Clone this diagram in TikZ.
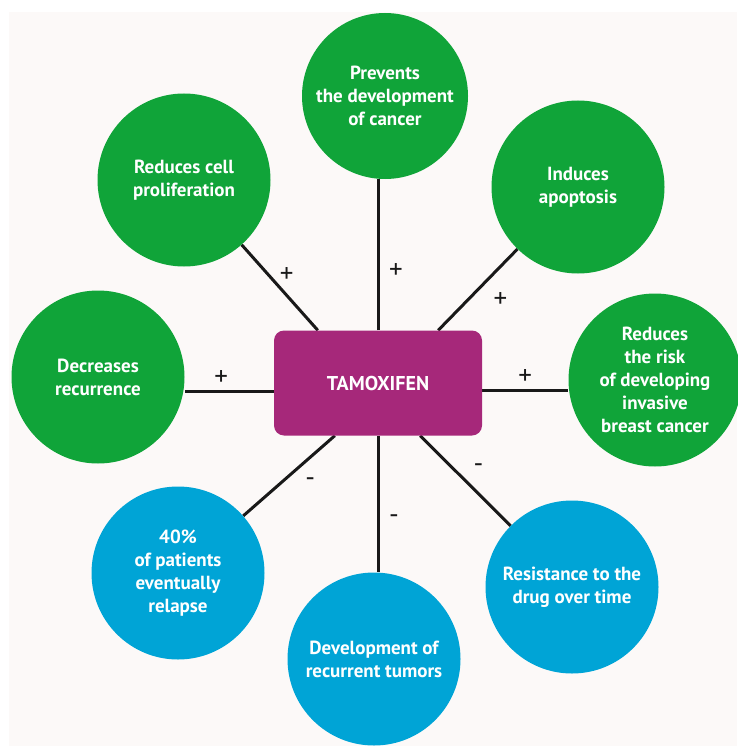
\documentclass[tikz,border=0pt]{standalone}
\usepackage{fontspec}
\setmainfont{PT Sans}
\usepackage{tikz}
\usetikzlibrary{shapes,arrows,calc,positioning,backgrounds}

\definecolor{tamgreen}{RGB}{16,164,57}
\definecolor{tamblue}{RGB}{0,164,214}
\definecolor{tampurple}{RGB}{166,40,122}
\definecolor{tampaper}{RGB}{252,249,248}

\begin{document}
\begin{tikzpicture}[x=1pt,y=-1pt,
                    effect/.style={circle,minimum size=173pt,inner sep=0pt,text=white,
                                   align=center,font=\fontsize{19}{23}\selectfont\bfseries},
                    pro/.style={effect,fill=tamgreen},
                    con/.style={effect,fill=tamblue},
                    drug/.style={rounded corners=10pt,fill=tampurple,minimum width=208pt,
                                 minimum height=105pt,text=white,
                                 font=\fontsize{20}{22}\selectfont\bfseries},
                    link/.style={line width=3pt,black!90},
                    sign/.style={font=\fontsize{27}{27}\selectfont,text=black!90}]

	\useasboundingbox (0,0) rectangle (737,746);

	% drug in the middle
	\node[drug] (tam) at (378,383) {TAMOXIFEN};

	% positive effects
	\node[pro,minimum size=166pt] (prev) at (385,96)  {Prevents\\the development\\of cancer};
	\node[pro] (prolif) at (184,180) {Reduces cell\\proliferation};
	\node[pro] (apopt)  at (578,187) {Induces\\apoptosis};
	\node[pro] (recur)  at (98,377)  {Decreases\\recurrence};
	\node[pro] (risk)   at (655,380) {Reduces\\the risk\\of developing\\invasive\\breast cancer};

	% negative effects
	\node[con] (relapse) at (178,573) {40\%\\of patients\\eventually\\relapse};
	\node[con] (tumors)  at (374,659) {Development of\\recurrent tumors};
	\node[con] (resist)  at (572,587) {Resistance to the\\drug over time};

	\begin{scope}[on background layer]
		\fill[tampaper] (9,12) rectangle (737,746);

		\draw[link] (tam.north) -- node[sign,pos=.39,xshift=18pt]{+} (tam.north |- prev.south);
		\draw[link] ([xshift=44pt]tam.north west) -- node[sign,pos=.54,xshift=10pt,yshift=9pt]{+} (prolif);
		\draw[link] ([xshift=-44pt]tam.north east) -- node[sign,pos=.57,xshift=17pt,yshift=-16pt]{+} (apopt);
		\draw[link] ([yshift=-8pt]tam.west) -- node[sign,pos=.59,yshift=13pt]{+} ([yshift=-8pt]tam.west -| recur.east);
		\draw[link] ([yshift=-7pt]tam.east) -- node[sign,pos=.5,yshift=13pt]{+} ([yshift=-7pt]tam.east -| risk.west);

		\draw[link] ([xshift=61pt]tam.south west) -- node[sign,pos=.4,xshift=12pt,yshift=-14pt]{-} (relapse);
		\draw[link] (tam.south) -- node[sign,pos=.61,xshift=16pt]{-} (tam.south |- tumors.north);
		\draw[link] ([xshift=-62pt]tam.south east) -- node[sign,pos=.5,xshift=13pt,yshift=13pt]{-} (resist);
	\end{scope}
\end{tikzpicture}
\end{document}
